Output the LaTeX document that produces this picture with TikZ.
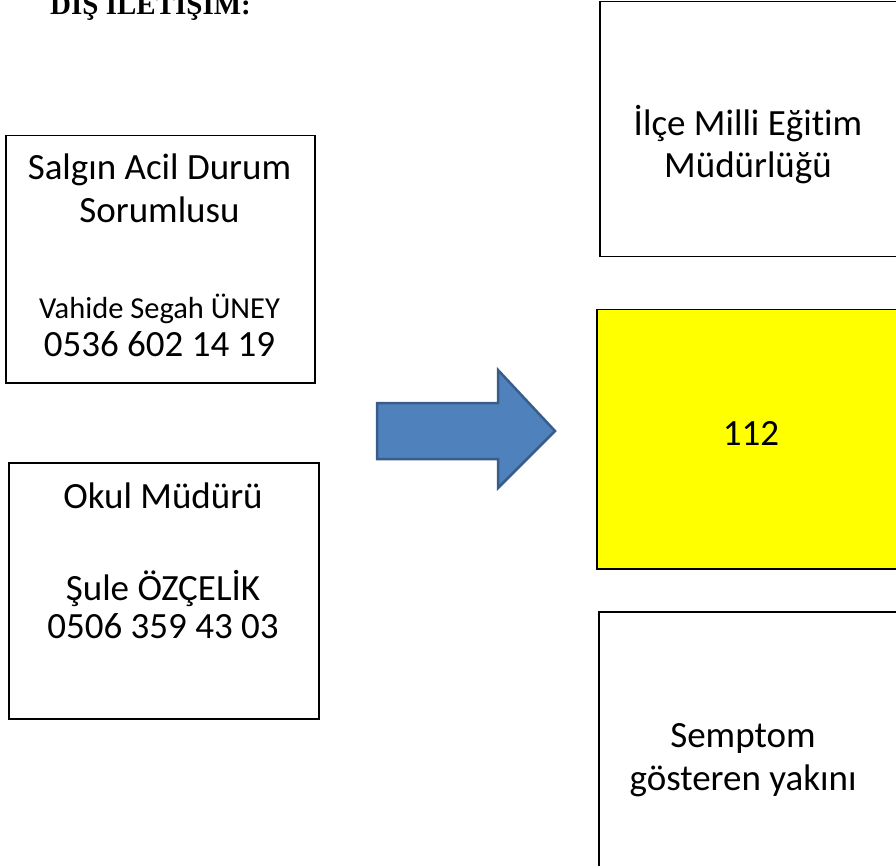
\documentclass[tikz,border=0pt]{standalone}
\usepackage{fontspec}
\setmainfont{Carlito}[Ligatures=NoCommon]
\newfontfamily\titlefont{Liberation Serif}
\definecolor{arrowblue}{HTML}{4F81BD}
\definecolor{arrowedge}{HTML}{385D8A}
\definecolor{alarmyellow}{HTML}{FFFF00}

\begin{document}
\begin{tikzpicture}[x=1pt,y=-1pt]
% Box and text styles
\tikzset{
    contactbox/.style={
        draw=black,
        line width=1.5pt,
        anchor=north west,
        inner sep=0pt
    },
    bigtext/.style={font=\fontsize{37}{44}\selectfont, anchor=base, inner sep=0pt},
    smalltext/.style={font=\fontsize{30.5}{36}\selectfont, anchor=base, inner sep=0pt},
}
\useasboundingbox (0,0) rectangle (896,866);
% Title
\node
[
    font=\titlefont\bfseries\fontsize{29}{34}\selectfont,
    anchor=base west,
    inner sep=0pt
] (title) at (50,15) {DIŞ İLETİŞİM:};
% Left boxes
\node[contactbox, minimum width=309pt, minimum height=247pt] (sorumlu) at (5,135) {};
\node[bigtext] (sorumluA) at (159.5,180) {Salgın Acil Durum};
\node[bigtext] (sorumluB) at (159.5,223) {Sorumlusu};
\node[smalltext] (sorumluName) at (159.5,319) {Vahide Segah ÜNEY};
\node[bigtext] (sorumluTel) at (159.5,356) {0536 602 14 19};

\node[contactbox, minimum width=310pt, minimum height=256pt] (mudur) at (8,462) {};
\node[bigtext] (mudurA) at (163,508) {Okul Müdürü};
\node[bigtext] (mudurName) at (163,600) {Şule ÖZÇELİK};
\node[bigtext] (mudurTel) at (163,638) {0506 359 43 03};
% Right boxes
\node[contactbox, minimum width=299pt, minimum height=255pt] (milli) at (599,1) {};
\node[bigtext] (milliA) at (748,136) {İlçe Milli Eğitim};
\node[bigtext] (milliB) at (748,178) {Müdürlüğü};

\node[contactbox, fill=alarmyellow, minimum width=302pt, minimum height=259pt] (acil) at (596,309) {};
\node[bigtext] (acilNo) at (751,445) {112};

\node[contactbox, minimum width=300pt, minimum height=262pt] (yakin) at (598,611) {};
\node[bigtext] (yakinA) at (743,747) {Semptom};
\node[bigtext] (yakinB) at (743,790) {gösteren yakını};
% Block arrow
\draw
[
    fill=arrowblue,
    draw=arrowedge,
    line width=2.5pt
] (377,403) -- (498,403) -- (498,370) -- (555,431) -- (498,488) -- (498,459) -- (377,459) -- cycle;
\end{tikzpicture}
\end{document}
